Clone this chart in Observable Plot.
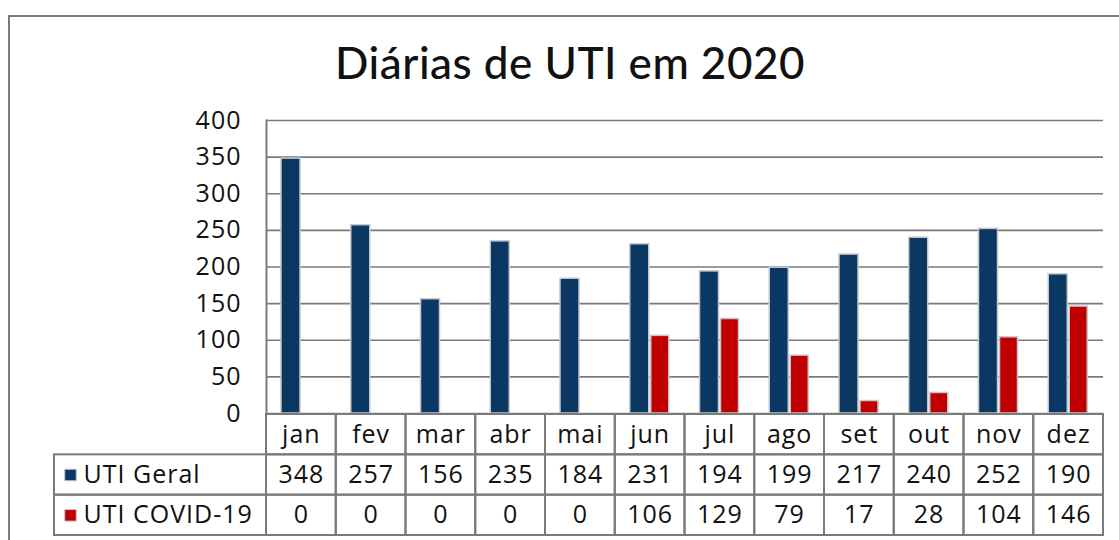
<!DOCTYPE html>
<html>
<head>
<meta charset="utf-8">
<script src="https://cdn.jsdelivr.net/npm/d3@7"></script>
<script src="https://cdn.jsdelivr.net/npm/@observablehq/plot@0.6"></script>
<style>
  html, body { margin: 0; padding: 0; background: #fff; width: 1119px; height: 540px; overflow: hidden; font-family: Lato, "Open Sans", sans-serif; }
  #frame { position: absolute; left: 8px; top: 15px; width: 1140px; height: 600px; border: 2px solid #7a7a7a; box-sizing: border-box; }
  #title { position: absolute; left: 0; width: 1140px; top: 36px; text-align: center; font-size: 44px; font-weight: 500; color: #111; letter-spacing: 0.5px; }
  #chart { position: absolute; left: 0; top: 0; }
  #table { position: absolute; left: 0; top: 413px; }
  svg { overflow: visible; }
  svg text { letter-spacing: 1px; font-weight: 500; }
</style>
</head>
<body>
<div id="frame"></div>
<div id="title">Diárias de UTI em 2020</div>
<div id="chart"></div>
<div id="table"></div>
<script>
const months = ["jan","fev","mar","abr","mai","jun","jul","ago","set","out","nov","dez"];
const series = ["UTI Geral", "UTI COVID-19"];
const utiGeral = [348, 257, 156, 235, 184, 231, 194, 199, 217, 240, 252, 190];
const utiCovid = [0, 0, 0, 0, 0, 106, 129, 79, 17, 28, 104, 146];
const yTicks = [0, 50, 100, 150, 200, 250, 300, 350, 400];
const colors = ["#0b3763", "#c00000"];

const geralData = months.map((m, i) => ({month: m, value: utiGeral[i]}));
const covidData = months.map((m, i) => ({month: m, value: utiCovid[i]}));

const W = 1119, ML = 266, MR = 16;
const gray = "#7a7a7a";
const font = "'Open Sans', Lato, sans-serif";

const chart = Plot.plot({
  width: W, height: 440,
  marginLeft: ML, marginRight: MR, marginTop: 120, marginBottom: 27,
  style: {fontFamily: font, fontSize: "25px", color: "#111", background: "transparent", overflow: "visible"},
  x: {type: "band", domain: months, padding: 0, round: false, axis: null},
  y: {domain: [0, 400], ticks: yTicks, axis: null},
  marks: [
    Plot.gridY(yTicks, {stroke: gray, strokeOpacity: 1, strokeWidth: 1.6}),
    Plot.frame({anchor: "left", stroke: gray, strokeWidth: 2}),
    Plot.axisY(yTicks, {tickSize: 0, tickPadding: 25, fontSize: 25, fill: "#111", label: null}),
    Plot.barY(geralData, {x: "month", y: "value", fill: colors[0], stroke: "#c4c7cc", strokeWidth: 1.5, insetLeft: 15, insetRight: 35.75}),
    Plot.barY(covidData.filter(d => d.value > 0), {x: "month", y: "value", fill: colors[1], stroke: "#c4c7cc", strokeWidth: 1.5, insetLeft: 36, insetRight: 15.75})
  ]
});
document.getElementById("chart").appendChild(chart);

const rows = ["mês", ...series];
const headerCells = months.map(m => ({month: m, row: "mês", text: m}));
const valueCells = [
  ...months.map((m, i) => ({month: m, row: series[0], text: String(utiGeral[i])})),
  ...months.map((m, i) => ({month: m, row: series[1], text: String(utiCovid[i])}))
];
const allCells = [...headerCells, ...valueCells];
const legendRows = series.map((s, i) => ({row: s, color: colors[i]}));

const table = Plot.plot({
  width: W, height: 124,
  marginLeft: ML, marginRight: MR, marginTop: 1, marginBottom: 2,
  style: {fontFamily: font, fontSize: "25px", color: "#111", background: "transparent", overflow: "visible"},
  x: {type: "band", domain: months, padding: 0, round: false, axis: null},
  y: {type: "band", domain: rows, padding: 0, round: false, axis: null},
  marks: [
    Plot.rect(legendRows, {y: "row", fill: "none", stroke: gray, strokeWidth: 2, insetLeft: -212, insetRight: W - ML - MR}),
    Plot.cell(allCells, {x: "month", y: "row", fill: "none", stroke: gray, strokeWidth: 2, inset: 0}),
    Plot.text(allCells, {x: "month", y: "row", text: "text", fontSize: 25, fill: "#111"}),
    Plot.dot(legendRows, {y: "row", frameAnchor: "left", dx: -196, symbol: "square", r: 6.5, fill: "color", stroke: "#c4c7cc", strokeWidth: 1}),
    Plot.text(legendRows, {y: "row", text: "row", frameAnchor: "left", dx: -183, textAnchor: "start", fontSize: 25, fill: "#111"})
  ]
});
document.getElementById("table").appendChild(table);
</script>
</body>
</html>
